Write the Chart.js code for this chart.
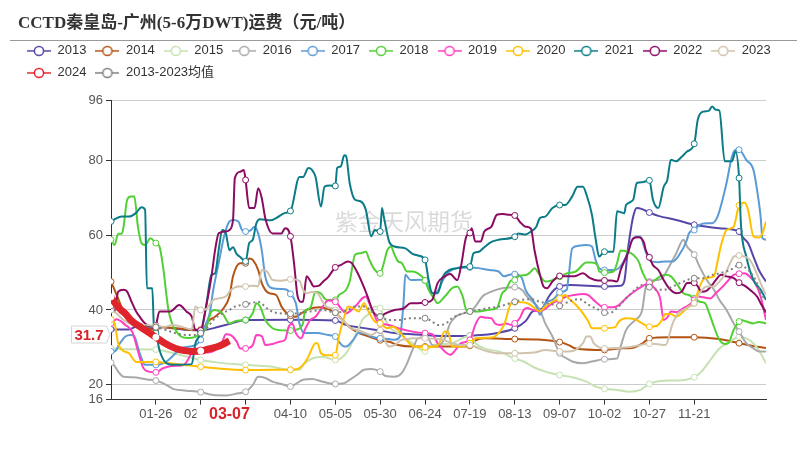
<!DOCTYPE html>
<html>
<head>
<meta charset="utf-8">
<script src="https://cdn.jsdelivr.net/npm/chart.js@4.4.1/dist/chart.umd.min.js"></script>
<style>
  html, body { margin: 0; padding: 0; background: #fff; }
</style>
</head>
<body>
<canvas id="freightChart" width="808" height="460"></canvas>
<script>
// Titel, Achsen und Beschriftungen
const titleText = 'CCTD秦皇岛-广州(5-6万DWT)运费（元/吨）';
const watermarkText = '紫金天风期货';
const seriesNames = ['2013', '2014', '2015', '2016', '2017', '2018', '2019', '2020', '2021', '2022', '2023', '2024', '2013-2023均值'];
const seriesColors = ['#5546a8', '#b35414', '#c6e2b3', '#a9a9a9', '#5b9bd5', '#52cf35', '#ff3ec0', '#ffc000', '#0b7c87', '#8b0b62', '#d0c3ad', '#e0242c', '#7f7f7f'];
const xTickDays = [25, 50, 75, 100, 125, 150, 175, 200, 225, 250, 275, 300, 325];
const xTickLabels = ['01-26', '02-20', '03-16', '04-10', '05-05', '05-30', '06-24', '07-19', '08-13', '09-07', '10-02', '10-27', '11-21'];
const yTicks = [16, 20, 40, 60, 80, 96];
const endDateLabel = '03-07';

// Werte je Jahr: [Tag des Jahres, Fracht]
const s2013 = [[0,34.8],[10,34.8],[14,35.5],[25,35.5],[40,34.8],[50,34.5],[60,35.5],[67,36.4],[75,37.3],[100,37.4],[125,37.2],[131,36],[140,35.2],[150,34.5],[158,33.8],[175,33.3],[186,33],[200,33.1],[210,33.4],[216,33.9],[225,35.1],[231,37],[235,39.6],[240,40.3],[244,43.6],[247,45.4],[250,46.3],[256,46.7],[275,46.3],[284,46.5],[286,47.6],[288,56],[291,65],[293,67.3],[296,67],[300,66.1],[305,65.2],[315,64.1],[325,62.8],[339,61.9],[350,61],[352,59.5],[355,57.9],[358,54.3],[361,50.7],[365,47.6]];
const s2014 = [[0,47.6],[2,45.4],[5,41.8],[8,38.2],[12,36],[16,35.5],[20,35.1],[25,34.7],[28,35.4],[35,35.2],[42,34.8],[50,34.7],[55,37.3],[58,38.2],[62,40],[66,43.6],[68,49],[72,52.5],[75,52.5],[77,53.8],[79,53.4],[82,50.7],[84,47.2],[88,44.5],[92,44],[95,40.9],[97,39.6],[100,38.5],[103,38.2],[106,39.1],[110,40.2],[116,40.7],[120,40.4],[125,39.3],[129,37.3],[133,35.4],[138,33.9],[143,33],[150,31.9],[155,31.5],[160,30.6],[168,30.2],[175,30.2],[197,30.2],[200,30.4],[203,31.8],[208,32.4],[225,32.2],[238,32.1],[250,31.4],[255,30.6],[259,29.7],[275,29.3],[283,29.7],[291,29.9],[296,31],[300,32.4],[311,32.7],[325,32.7],[339,32.2],[350,31.1],[357,30.4],[365,29.8]];
const s2015 = [[0,29.7],[10,29.5],[25,29.4],[35,28.4],[50,26.6],[60,25.9],[75,25.3],[88,24.9],[100,24],[105,24],[108,25.7],[112,27],[118,27.5],[125,26.6],[131,28.4],[136,32.9],[140,37.3],[144,39.1],[147,40.9],[150,40.5],[152,38.2],[155,35.5],[160,33.8],[168,31.1],[175,28.9],[179,30.6],[190,31],[194,32],[200,33.1],[203,31.1],[208,29.7],[216,28.9],[225,27],[230,26.2],[235,24.8],[242,23.5],[250,22.6],[257,22],[265,20.8],[270,19.5],[275,18.9],[282,18.6],[289,18.1],[295,18.6],[300,20.2],[306,21],[313,21.1],[321,21.4],[325,22],[329,23.5],[334,26.6],[339,29.7],[345,31.5],[350,32.9],[354,32.4],[358,31.1],[362,28.4],[365,25.7]];
const s2016 = [[0,25.9],[2,25],[4,23.5],[7,22.1],[12,22],[20,21.4],[25,21.1],[31,19.9],[35,18.8],[42,18.4],[50,18],[57,17.2],[64,17.1],[71,17.7],[75,18.1],[79,19.9],[82,22.1],[86,21.8],[90,20.8],[95,20.2],[100,19.5],[103,20.2],[107,21.3],[112,21.5],[118,20.8],[125,20.2],[130,20.4],[133,21.3],[137,22.6],[141,24],[145,24.2],[150,23.5],[153,22.3],[158,22.1],[162,23.1],[165,25.7],[168,29.3],[171,32.4],[175,32.7],[177,32.2],[179,30.6],[182,30.4],[186,32.4],[189,36.4],[192,38.2],[195,38.9],[200,39.6],[203,40.9],[207,43.6],[212,44.9],[218,45.8],[225,46.1],[229,45.4],[232,43.5],[239,40],[242,36.4],[246,32.9],[250,28.4],[254,27],[257,26.2],[263,25.7],[268,26.2],[275,26.8],[282,27],[284,30.2],[287,34.6],[292,37.3],[296,40],[298,46.3],[300,47.6],[304,48],[307,48.4],[311,51.6],[315,55.2],[319,58.8],[321,57],[325,54.8],[328,51.6],[332,48],[336,45.4],[339,42.7],[343,40],[347,36.4],[350,34.2],[354,31.1],[358,29.7],[361,28.9],[365,28.9]];
const s2017 = [[0,28.9],[2,28.9],[5,31.1],[8,32.9],[11,33.3],[13,32.9],[16,28.4],[19,25.3],[25,25.3],[29,25.7],[32,26.6],[36,28.4],[39,29.7],[44,30.2],[47,30.6],[50,32],[53,36.4],[55,39.1],[57,45.4],[60,52.5],[63,59.7],[66,63.7],[68,64.1],[71,63.7],[73,61.4],[75,61],[78,61.4],[80,62.3],[82,60.5],[84,56],[86,48.9],[90,45.8],[95,45.6],[98,45.4],[100,44.3],[103,41.8],[105,36.4],[108,33.8],[115,33.8],[121,33.3],[125,32.9],[127,31.5],[130,30.2],[132,30.4],[135,32],[138,33.8],[142,33.6],[145,32.9],[150,32.4],[155,32.2],[158,32],[161,32.9],[163,41.8],[164,49.4],[167,48],[172,48.1],[175,47.9],[177,45.8],[180,44.5],[182,45],[185,48],[187,49.5],[190,50.7],[193,51.2],[200,51.4],[205,51.2],[211,50.7],[216,50.3],[219,49],[222,49.4],[225,49.6],[229,48.5],[231,45.4],[235,42.7],[238,40],[239,38.7],[240,39.5],[242,41.8],[246,42.7],[248,43.6],[250,44.7],[254,45.4],[255,48.9],[257,56.5],[261,57.2],[265,57.4],[268,57],[270,53.4],[272,51.2],[275,50.7],[280,50.7],[283,51.2],[287,54.3],[290,58.3],[293,59.7],[295,59.7],[297,57],[299,54.3],[301,53],[305,52.8],[309,53],[313,53],[316,54.3],[321,58.8],[322,60.5],[325,61.4],[328,62.8],[332,63.2],[335,63.2],[338,65],[340,68.1],[343,74],[346,81],[348,82.9],[350,82.9],[354,80.2],[358,77.5],[360,72.2],[362,65],[363,59.2],[365,58.8]];
const s2018 = [[0,58.8],[2,57.4],[4,60.4],[6,60.4],[7,62.3],[9,69.5],[11,70.4],[13,70.4],[15,62.3],[17,57.9],[19,57.4],[22,59.2],[25,57.9],[27,57],[29,51.6],[31,43.6],[32,40],[34,36.4],[36,34.6],[39,32.9],[43,32.5],[47,32.8],[50,33.8],[53,35.1],[56,39.6],[58,40],[62,39.1],[66,36.4],[70,37.1],[75,37.3],[79,39.1],[81,41.8],[83,41],[86,37.3],[90,35.1],[94,34.6],[100,34.5],[103,34.7],[107,36.4],[108,39.6],[111,40.5],[114,44.9],[117,44.4],[120,42.7],[125,42.7],[127,44],[131,45.4],[133,47.6],[136,54.8],[139,55.2],[142,55.6],[144,53.4],[147,50.7],[150,49.8],[152,52.5],[154,56],[156,56.9],[158,54.8],[160,53],[162,52.6],[165,50.3],[168,50.3],[171,49.8],[175,47.9],[177,45.4],[180,43.1],[182,41.8],[186,43.6],[190,45.8],[193,46.3],[196,43.6],[198,40],[200,39.6],[205,39.6],[210,40],[215,40.5],[218,44.5],[220,45.4],[223,47.9],[225,48],[227,49],[232,49.5],[234,50.3],[236,51.2],[238,50],[241,47.9],[243,47.6],[246,48],[250,48.9],[254,49.8],[259,50.3],[265,52.7],[268,52.7],[271,52.1],[272,50.3],[275,50],[280,50.3],[282,52.5],[284,55.9],[287,55.7],[291,54.8],[294,53],[296,50.3],[300,47.2],[302,47.6],[306,49],[309,49.4],[312,49],[315,47.2],[319,44.5],[322,44],[325,43.1],[328,42.2],[331,41.8],[333,39.6],[336,35.5],[339,32],[342,30.9],[344,31.1],[347,34.7],[350,36.9],[351,37.3],[354,36.9],[358,36.4],[361,36.8],[365,36.4]];
const s2019 = [[0,36.4],[3,37.5],[8,36],[12,34],[15,29],[18,24.5],[21,23.5],[25,23.3],[29,24.4],[34,25],[40,25.2],[42,26],[45,28.5],[47,29.3],[50,29.3],[54,28.6],[58,29.2],[62,31.5],[64,33.5],[67,33.2],[70,31.6],[72,29.7],[75,29.7],[79,30.6],[81,33.3],[84,33],[86,30.6],[90,30.9],[94,31.5],[97,32],[99,35.5],[101,36.4],[103,33.8],[106,32.4],[108,34.7],[111,37.3],[114,38.2],[118,40.9],[121,42.5],[125,42.2],[128,40.5],[131,39.1],[134,40],[137,41.4],[140,43.1],[142,43.6],[144,41.8],[146,39.6],[148,37.3],[150,36.4],[155,36],[160,35.1],[168,34.2],[175,33.8],[179,33.5],[182,31.1],[186,28.9],[189,28],[192,29.3],[195,31.1],[200,32],[203,36],[206,38.2],[209,37.9],[212,37.8],[214,36.4],[217,36],[220,36.4],[223,36],[225,36.4],[228,38],[230,40],[232,40.5],[235,40],[239,39.6],[242,40.3],[246,41.8],[250,42.7],[254,43.6],[258,44],[263,44.3],[266,44],[270,42.2],[275,40.7],[280,40.7],[283,41.3],[288,43.6],[293,45.4],[296,46.3],[300,47.3],[302,46.3],[306,43.1],[308,37.3],[310,38],[312,39.6],[315,39.4],[319,40.5],[322,41.3],[325,42.7],[327,43.6],[330,43.4],[334,43.1],[337,44.5],[341,46.3],[345,48.5],[347,49.4],[350,49.7],[353,49.8],[356,48.9],[359,47.2],[362,43.6],[365,37.3]];
const s2020 = [[0,37.5],[2,36.4],[4,31.1],[6,29.3],[10,28.4],[14,26.1],[25,26.1],[35,25.6],[50,24.8],[60,24.3],[75,23.9],[90,24],[100,24],[104,24.2],[107,25.3],[110,27.5],[112,29.7],[114,31.1],[115,31.1],[117,28.4],[120,27.9],[125,27.9],[127,32.9],[130,38.2],[132,40.9],[135,40.5],[138,39.6],[141,41.8],[143,40],[147,36.9],[150,36.4],[154,35.1],[157,35.5],[160,34.6],[163,32.9],[168,30.4],[175,30],[182,30.4],[186,34.2],[188,34],[190,30.2],[196,30.2],[200,31.1],[203,32.4],[212,32.6],[215,33.3],[219,36],[223,41.8],[225,42.1],[232,41.8],[235,40.9],[239,39.6],[242,40.9],[246,42.2],[250,43.1],[253,44],[255,43.1],[259,41.4],[263,39.1],[266,36.9],[268,35.1],[275,35.1],[281,35.4],[283,36.9],[287,37.8],[292,37.5],[296,36.4],[300,35.5],[304,35.7],[307,37.3],[309,38.9],[312,38.9],[315,38.2],[319,39.6],[322,40.9],[325,41.8],[328,46.3],[331,48.5],[336,49],[338,53],[340,57.4],[343,61.4],[347,62.3],[350,68],[353,68.8],[355,66.8],[358,59.7],[361,59.4],[363,60.5],[365,63.7]];
const s2021 = [[0,63.7],[6,65],[10,65],[14,66],[17,67.5],[19,66.8],[20,45.8],[23,45.8],[24,34.7],[25,33.8],[27,29.3],[31,25.7],[35,25.3],[45,25.5],[47,31],[50,33.8],[53,41],[56,49.4],[58,49.8],[60,56],[62,61.4],[64,60.5],[66,56],[68,56.8],[70,55],[72,54.2],[75,53],[77,57.9],[79,58.8],[81,63.2],[83,64.3],[89,64],[92,64.6],[97,66],[100,66.5],[105,75.6],[107,75.6],[110,78],[112,77.5],[114,75.6],[117,67.7],[119,73],[122,73.3],[125,73.2],[126,78],[128,78.4],[130,81.4],[131,81.2],[133,74],[136,69.5],[139,69.1],[142,66.8],[145,59.7],[147,61.4],[150,61],[151,67.3],[152,65],[155,58.3],[158,57],[164,56.5],[168,55],[171,54.6],[175,53.4],[177,48],[179,44.5],[182,44.5],[185,49],[189,50.8],[193,51.2],[197,51.6],[200,51.6],[202,55.2],[205,55.6],[208,56.8],[212,58.2],[216,58.8],[225,59.6],[227,60.5],[231,60.2],[234,61],[237,62.3],[239,64.6],[242,65],[246,67.3],[250,68.1],[253,68.1],[257,70.4],[260,73],[263,73],[265,70.8],[268,65.5],[270,59.2],[272,54.3],[275,55.6],[280,55.6],[282,66.4],[284,66.2],[286,65.9],[287,68.1],[291,69.5],[293,74],[296,74.2],[300,74.7],[302,69.5],[305,67.3],[308,73],[310,74.8],[312,80.2],[315,79.8],[318,81],[321,82.4],[325,84.5],[327,91],[330,93.1],[333,93.3],[335,94.5],[337,93.6],[339,93.4],[342,79.8],[346,79.8],[348,82.4],[350,75.3],[351,63.2],[354,54.3],[358,48],[362,45.4],[365,42.7]];
const s2022 = [[0,42.5],[2,39.6],[4,44.9],[7,45.4],[9,44.9],[11,42.7],[14,39.6],[16,38.2],[18,36.9],[20,36],[22,35.5],[24,35.1],[25,35.8],[27,39.6],[33,39.6],[38,41.3],[42,39.6],[45,38.2],[47,34.7],[50,34.5],[53,40.9],[56,49],[58,56],[60,60.5],[64,61],[66,61.4],[68,64.1],[69,75.3],[72,77],[74,77.5],[75,74.8],[77,67.3],[80,67.3],[82,72.6],[84,70],[86,64.5],[90,60.5],[95,60.5],[97,61.9],[100,59.7],[102,52.5],[104,43.6],[106,42.2],[107,42.2],[109,49],[111,47.8],[113,46.3],[116,46.5],[118,47.5],[121,48.8],[125,51.4],[128,52],[132,53],[134,52.6],[137,50.3],[140,47.2],[143,43.6],[146,39.6],[150,38.2],[153,39.1],[158,40],[163,40.4],[167,41.8],[171,41.8],[175,42],[179,42.7],[182,47.2],[186,49],[189,49.6],[193,48],[195,51.6],[198,59.7],[200,60.6],[201,61.9],[203,58.3],[206,58.3],[208,61],[212,62.3],[215,65.5],[218,65.7],[221,65.5],[225,65.3],[228,63.5],[231,62.3],[234,61.8],[236,56],[239,49.4],[241,46.3],[243,45.8],[246,47.6],[250,49.1],[254,49],[258,49],[263,49.8],[267,48.5],[271,47.9],[275,47.9],[279,47.9],[282,47.6],[284,50.7],[288,55.2],[291,59.2],[294,59.5],[297,58],[298,56],[300,54.1],[302,52],[305,50.7],[308,48],[311,45.8],[315,44.5],[318,44.9],[321,47.2],[325,47.3],[327,46.3],[329,44.9],[332,45.2],[335,46.7],[337,48],[340,49.4],[343,49],[347,48.5],[350,47.3],[353,46.5],[356,45.4],[360,43.6],[362,41.8],[365,39.3]];
const s2023 = [[0,40],[3,39.1],[7,37.3],[10,36.4],[14,36],[20,36],[25,35.7],[30,35.5],[34,36],[40,35.4],[45,34.8],[47,40.9],[50,40],[53,40.2],[57,42.7],[60,43.1],[64,43.6],[67,45.4],[71,46.3],[75,46.3],[79,46.5],[82,46.3],[84,50.7],[87,50.3],[90,48],[95,47.8],[100,48.2],[105,47.8],[107,45.4],[109,44.5],[112,44.8],[115,44.5],[118,42.2],[120,40.9],[125,40],[127,38.2],[131,36.4],[134,35.1],[138,34.5],[142,33.8],[145,33.3],[150,34.6],[152,32.5],[155,30.2],[158,30.6],[162,32],[165,32.2],[168,32.4],[175,32.4],[180,32.3],[185,32],[190,31.1],[195,30.6],[200,30.6],[205,29.7],[210,28.9],[216,28.4],[225,28.4],[236,28.6],[242,29.3],[250,28.9],[255,28.9],[259,29.3],[263,31.1],[265,32.9],[267,32.9],[269,31.1],[272,30],[275,29.7],[288,30],[293,30.4],[300,31],[305,30.8],[309,30.6],[313,36.4],[316,39.1],[319,40],[322,40.9],[325,41.8],[328,44.5],[332,46.3],[336,46.3],[339,47.6],[342,49.4],[345,52.5],[347,54.3],[350,54.6],[353,54.3],[356,53.4],[359,50.7],[362,47.2],[365,44]];
const s2024 = [[0,43.5],[2,42],[5,40.3],[8,39],[11,37.3],[14,36.2],[19,34.6],[25,32.7],[30,31.1],[36,29.7],[41,29.1],[45,28.9],[50,29],[54,29.5],[60,30.3],[66,31.7]];
const sAvg = [[0,41.1],[3,40],[7,38.7],[10,37.3],[16,36.4],[21,35.5],[25,35.4],[30,34.7],[36,33.8],[42,33.3],[47,33.3],[50,33.8],[54,35.5],[57,37.3],[62,39.1],[66,40],[69,40.9],[75,41.5],[78,41.8],[82,42.2],[85,41.3],[88,40],[94,39.1],[100,39],[106,39.2],[111,39.6],[118,40],[125,39.3],[131,39.8],[136,40.9],[142,40.9],[145,39.6],[150,38.2],[155,37.3],[161,37.3],[166,37.8],[175,37.8],[179,36.9],[182,36],[186,36.2],[190,37.8],[194,38.7],[200,39.6],[205,40],[210,40.5],[216,40.9],[225,42.2],[229,42.7],[234,42.9],[239,42.2],[244,41.7],[250,41.1],[255,42.2],[261,42.9],[266,41.4],[272,40],[275,39.3],[278,39.2],[282,40.5],[287,43.1],[292,45.4],[296,46.7],[300,46.1],[304,45.4],[308,45.4],[313,46.3],[319,47.6],[325,48.5],[330,48.5],[335,49.4],[339,49.8],[345,50.7],[350,52],[353,51.5],[356,50.3],[360,47.2],[362,44.5],[365,42.7]];

const seriesData = [s2013, s2014, s2015, s2016, s2017, s2018, s2019, s2020, s2021, s2022, s2023, s2024, sAvg];

// Legendensymbol: kurze Linie mit offenem Kreis
function legendIcon(color) {
    const c = document.createElement('canvas');
    c.width = 24;
    c.height = 12;
    const g = c.getContext('2d');
    g.strokeStyle = color;
    g.lineWidth = 1.5;
    g.beginPath();
    g.moveTo(0, 6);
    g.lineTo(24, 6);
    g.stroke();
    g.beginPath();
    g.arc(12, 6, 4.6, 0, Math.PI * 2);
    g.fillStyle = '#fff';
    g.fill();
    g.stroke();
    return c;
}
const legendIcons = seriesColors.map(legendIcon);

const datasets = seriesData.map((data, i) => {
    const isCurrent = i === 11;
    const isAvg = i === 12;
    return {
        label: seriesNames[i],
        data: data,
        borderColor: seriesColors[i],
        backgroundColor: seriesColors[i],
        borderWidth: isCurrent ? 7 : 2,
        borderDash: isAvg ? [2, 3] : [],
        pointRadius: ctx => (ctx.raw && ctx.raw[0] % 25 === 0 ? 3 : 0),
        pointBackgroundColor: '#fff',
        pointBorderColor: isCurrent ? '#fff' : seriesColors[i],
        pointBorderWidth: 1,
        cubicInterpolationMode: 'monotone',
        fill: false,
        order: isCurrent ? -100 : -i
    };
});

// Wasserzeichen, Trennlinie unter dem Titel und Markierungen des letzten Wertes
const decorPlugin = {
    id: 'decor',
    beforeDatasetsDraw(chart) {
        const ctx = chart.ctx;
        ctx.save();
        ctx.font = '23px "Noto Sans CJK SC"';
        ctx.fillStyle = 'rgba(0, 0, 0, 0.15)';
        ctx.textAlign = 'center';
        ctx.textBaseline = 'middle';
        ctx.fillText(watermarkText, 404, 221);
        ctx.restore();
    },
    afterDraw(chart) {
        const ctx = chart.ctx;
        const area = chart.chartArea;
        const xs = chart.scales.x;
        const ys = chart.scales.y;
        const last = s2024[s2024.length - 1];
        ctx.save();

        ctx.strokeStyle = '#9a9a9a';
        ctx.lineWidth = 1;
        ctx.beginPath();
        ctx.moveTo(10, 40.5);
        ctx.lineTo(797, 40.5);
        ctx.stroke();

        // Wertmarke an der y-Achse
        const py = Math.round(ys.getPixelForValue(last[1]) - 7) + 0.5;
        const bx = area.left - 39.5;
        ctx.fillStyle = '#fff';
        ctx.strokeStyle = '#d4d4d4';
        ctx.beginPath();
        ctx.moveTo(bx, py - 8.5);
        ctx.lineTo(bx + 35, py - 8.5);
        ctx.lineTo(bx + 38.5, py);
        ctx.lineTo(bx + 35, py + 8.5);
        ctx.lineTo(bx, py + 8.5);
        ctx.closePath();
        ctx.fill();
        ctx.stroke();
        ctx.fillStyle = '#d9232b';
        ctx.font = 'bold 15px "Liberation Sans", sans-serif';
        ctx.textAlign = 'center';
        ctx.textBaseline = 'middle';
        ctx.fillText(last[1].toFixed(1), bx + 17.5, py + 1);

        // Datumsmarke an der x-Achse
        const px = xs.getPixelForValue(last[0]);
        ctx.fillStyle = '#fff';
        ctx.fillRect(px - 33, area.bottom + 5.5, 68, 21);
        ctx.fillStyle = '#d9232b';
        ctx.font = 'bold 16px "Liberation Sans", sans-serif';
        ctx.fillText(endDateLabel, px, area.bottom + 14.5);
        ctx.restore();
    }
};

const ctx = document.getElementById('freightChart').getContext('2d');
new Chart(ctx, {
    type: 'line',
    data: { datasets: datasets },
    plugins: [decorPlugin],
    options: {
        responsive: false,
        animation: false,
        layout: { padding: { left: 18, right: 0, top: 0, bottom: 30.4 } },
        plugins: {
            title: {
                display: true,
                text: titleText,
                align: 'start',
                color: '#333',
                font: { family: '"Liberation Serif", "Noto Sans CJK SC", serif', size: 17, weight: 'bold' },
                padding: { top: 13, bottom: 2 }
            },
            subtitle: {
                display: true,
                text: '',
                weight: 500,
                padding: 0,
                font: { size: 10, lineHeight: 1.14 }
            },
            legend: {
                display: true,
                align: 'start',
                labels: {
                    usePointStyle: true,
                    pointStyleWidth: 24,
                    padding: 9,
                    color: '#333',
                    font: { family: '"Liberation Sans", "Noto Sans CJK SC", sans-serif', size: 13 },
                    sort: (a, b) => a.datasetIndex - b.datasetIndex,
                    generateLabels(chart) {
                        const items = Chart.defaults.plugins.legend.labels.generateLabels(chart);
                        items.forEach(item => { item.pointStyle = legendIcons[item.datasetIndex]; });
                        return items;
                    }
                }
            },
            tooltip: { enabled: false }
        },
        scales: {
            x: {
                type: 'linear',
                min: 0,
                max: 365,
                afterBuildTicks: scale => { scale.ticks = xTickDays.map(v => ({ value: v })); },
                afterFit: scale => { scale.height = 30; },
                ticks: {
                    autoSkip: false,
                    maxRotation: 0,
                    padding: 2,
                    color: '#555',
                    font: { family: '"Liberation Sans", sans-serif', size: 13 },
                    callback: value => xTickLabels[xTickDays.indexOf(value)]
                },
                grid: { drawOnChartArea: false, drawTicks: true, tickLength: 5, tickColor: '#333' },
                border: { color: '#333' }
            },
            y: {
                type: 'linear',
                min: 16,
                max: 96,
                afterBuildTicks: scale => { scale.ticks = yTicks.map(v => ({ value: v })); },
                afterFit: scale => { scale.width = 93; },
                ticks: {
                    autoSkip: false,
                    padding: 3,
                    color: '#555',
                    font: { family: '"Liberation Sans", sans-serif', size: 13 }
                },
                grid: { color: '#cccccc', drawTicks: true, tickLength: 5, tickColor: '#333' },
                border: { color: '#333' }
            },
            yRight: {
                type: 'linear',
                position: 'right',
                display: true,
                grid: { display: false },
                border: { display: false },
                ticks: { display: false },
                afterFit: scale => { scale.width = 42; }
            }
        }
    }
});
</script>
</body>
</html>
